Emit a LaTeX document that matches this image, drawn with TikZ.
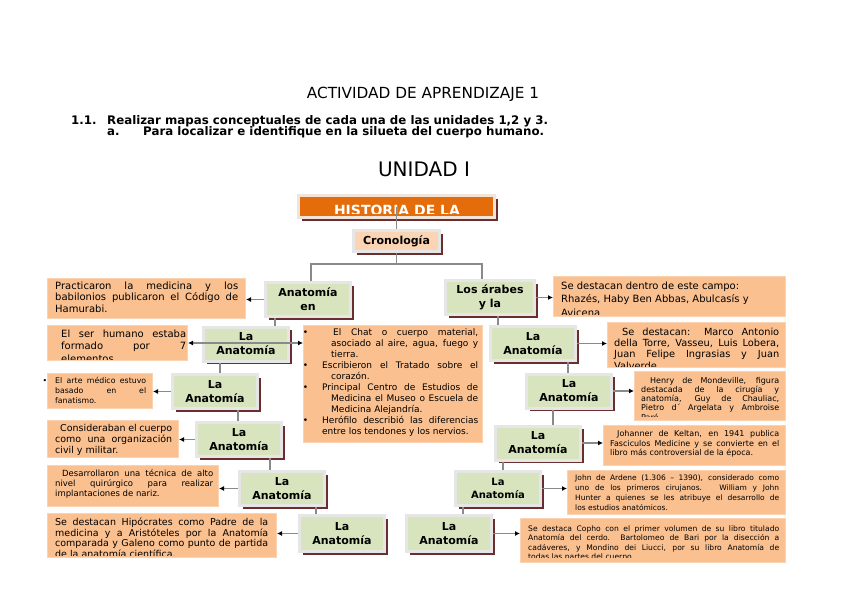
\documentclass[tikz,border=0pt]{standalone}
\usepackage{fontspec}
\setmainfont{DejaVu Sans}
\usetikzlibrary{arrows.meta,positioning,shadows}
\definecolor{titleorange}{HTML}{E46C0A}
\definecolor{titleframe} {HTML}{F2E4D8}
\definecolor{cronofill}  {HTML}{FBD4B4}
\definecolor{anagreen}   {HTML}{D7E4BD}
\definecolor{framegray}  {HTML}{E6E6E6}
\definecolor{shadowred}  {HTML}{6B2E2E}
\definecolor{notepeach}  {HTML}{FAC090}
\definecolor{noteedge}   {HTML}{FBD3B3}
\definecolor{linegray}   {HTML}{8A8A8A}

\begin{document}
\begin{tikzpicture}[x=1pt,y=-1pt,
    anat/.style={fill=anagreen,draw=framegray,line width=3pt,
      minimum width=85pt,minimum height=34pt,inner sep=1pt,align=center,
      font=\bfseries\fontsize{11}{14}\selectfont,
      drop shadow={shadow xshift=3pt,shadow yshift=-3pt,fill=shadowred,opacity=1}},
    note/.style={fill=notepeach,draw=noteedge,line width=1pt,anchor=north west,inner sep=0pt},
    txt/.style={anchor=north west,inner sep=0pt,align=justify},
    link/.style={draw=linegray,line width=1.1pt},
    arr/.style={link,-{Latex[length=5pt,width=5pt,color=black]}}]

  \useasboundingbox[fill=white] (0,0) rectangle (848,599);

  % heading
  \node[anchor=base,font=\fontsize{15.3}{17}\selectfont] (act) at (423,99) {ACTIVIDAD DE APRENDIZAJE 1};
  \node[anchor=base west,inner sep=0pt,font=\bfseries\fontsize{11.8}{13}\selectfont] (task) at (71,124.5)
    {\makebox[36pt][l]{1.1.}Realizar mapas conceptuales de cada una de las unidades 1,2 y 3.};
  \node[anchor=base west,inner sep=0pt,font=\bfseries\fontsize{11.8}{13}\selectfont] (taska) at (107,135.5)
    {\makebox[36pt][l]{a.}Para localizar e identifique en la silueta del cuerpo humano.};
  \node[anchor=base,font=\fontsize{20}{24}\selectfont] (unit) at (424,176.5) {UNIDAD I};

  % title and chronology
  \node[fill=titleorange,draw=titleframe,line width=3pt,minimum width=196pt,minimum height=22pt,
        drop shadow={shadow xshift=3pt,shadow yshift=-3pt,fill=shadowred,opacity=1}] (hist) at (396.5,206.5) {};
  \begin{scope}
    \clip ([shift={(3pt,6pt)}]hist.south west) rectangle ([shift={(-3pt,-3pt)}]hist.north east);
    \node[anchor=base,text=white,font=\bfseries\fontsize{14}{16}\selectfont] (histtxt) at (397,215) {HISTORIA DE LA};
  \end{scope}
  \node[anat,fill=cronofill,minimum width=86pt,minimum height=21pt] (crono) at (396.5,241) {Cronología};
  \draw[link] (hist.center) -- (crono.north);

  % green nodes
  \node[anat] (A0) at (308,299.5) {Anatomía\\en};
  \node[anat,minimum width=89pt] (Ar) at (490,297.5) {Los árabes\\y la};
  \node[anat] (L1) at (246,344) {La\\Anatomía};
  \node[anat] (L2) at (215,391.5) {La\\Anatomía};
  \node[anat] (L3) at (239,439.5) {La\\Anatomía};
  \node[anat] (L4) at (282,488.5) {La\\Anatomía};
  \node[anat,minimum height=36pt] (L5) at (342,533.5) {La\\Anatomía};
  \node[anat] (R1) at (533,343.5) {La\\Anatomía};
  \node[anat] (R2) at (569,391) {La\\Anatomía};
  \node[anat] (R3) at (538,443) {La\\Anatomía};
  \node[anat,font=\bfseries\fontsize{10}{13}\selectfont] (R4) at (498,488.5) {La\\Anatomía};
  \node[anat,minimum height=36pt] (R5) at (449,533.5) {La\\Anatomía};

  % tree
  \coordinate (split) at ([yshift=-11pt]crono.south);
  \draw[link] (crono.south) -- (split);
  \draw[link] ([xshift=3pt]A0.north) |- (split) -| ([xshift=-8pt]Ar.north);
  \draw[link] ([xshift=-33pt]A0.south) -- ([xshift=-33pt]A0.south |- L1.north);
  \draw[link] ([xshift=-26pt]L1.south) -- ([xshift=-26pt]L1.south |- L2.north);
  \draw[link] ([xshift=23pt]L2.south) -- ([xshift=23pt]L2.south |- L3.north);
  \draw[link] ([xshift=31pt]L3.south) -- ([xshift=31pt]L3.south |- L4.north);
  \draw[link] ([xshift=34pt]L4.south) -- ([xshift=34pt]L4.south |- L5.north);
  \draw[link] ([xshift=8pt]Ar.south) -- ([xshift=8pt]Ar.south |- R1.north);
  \draw[link] ([xshift=35pt]R1.south) -- ([xshift=35pt]R1.south |- R2.north);
  \draw[link] ([xshift=-16pt]R2.south) -- ([xshift=-16pt]R2.south |- R3.north);
  \draw[link] ([xshift=-35pt]R3.south) -- ([xshift=-35pt]R3.south |- R4.north);
  \draw[link] ([xshift=-35pt]R4.south) -- ([xshift=-35pt]R4.south |- R5.north);

  % left notes
  \node[note,minimum width=198pt,minimum height=40pt] (pA) at (47,278) {};
  \node[txt,text width=183pt,font=\fontsize{10}{11.5}\selectfont] (pAtxt) at (55,281.5)
    {\hangindent=7pt\hangafter=1 Practicaron la medicina y los\linebreak babilonios publicaron el Código de\linebreak Hamurabi.};

  \node[note,minimum width=140pt,minimum height=35pt] (pB) at (47,325) {};
  \begin{scope}
    \clip ([yshift=1.5pt]pB.south west) rectangle (pB.north east);
    \node[txt,text width=125pt,font=\fontsize{10}{12.3}\selectfont] (pBtxt) at (61,329.6)
      {El ser humano estaba\linebreak formado por 7\linebreak elementos};
  \end{scope}

  \node[note,minimum width=179pt,minimum height=117pt] (pC) at (303,325) {};
  \node[txt,text width=156pt,font=\fontsize{9}{11}\selectfont] (pCtxt) at (322,328.5)
    {\noindent\llap{\textbullet\hspace{14pt}}\hangindent=9pt\hangafter=1\hspace*{11pt}El Chat o cuerpo material,\linebreak asociado al aire, agua, fuego y\linebreak tierra.\par
     \noindent\llap{\textbullet\hspace{14pt}}\hangindent=9pt\hangafter=1 Escribieron el Tratado sobre el\linebreak corazón.\par
     \noindent\llap{\textbullet\hspace{14pt}}\hangindent=9pt\hangafter=1 Principal Centro de Estudios de\linebreak Medicina el Museo o Escuela de\linebreak Medicina Alejandría.\par
     \noindent\llap{\textbullet\hspace{14pt}}\hangindent=9pt\hangafter=1 Herófilo describió las diferencias\linebreak entre los tendones y los nervios.};

  \node[note,minimum width=105pt,minimum height=35pt] (pD) at (47,373) {};
  \node[txt,text width=91pt,font=\fontsize{7.8}{10}\selectfont] (pDtxt) at (55,376.7)
    {\noindent\llap{\textbullet\hspace{8pt}}\hangindent=7pt\hangafter=1 El arte médico estuvo\linebreak basado en el\linebreak fanatismo.};

  \node[note,minimum width=131pt,minimum height=37pt] (pE) at (47,420) {};
  \node[txt,text width=117pt,font=\fontsize{9.5}{11.4}\selectfont] (pEtxt) at (55,423.7)
    {\hspace*{5pt}Consideraban el cuerpo\linebreak como una organización\linebreak civil y militar.};

  \node[note,minimum width=171pt,minimum height=41pt] (pF) at (47,465) {};
  \node[txt,text width=158pt,font=\fontsize{8.5}{9.8}\selectfont] (pFtxt) at (55,469.8)
    {\hspace*{7pt}Desarrollaron una técnica de alto\linebreak nivel quirúrgico para realizar\linebreak implantaciones de nariz.};

  \node[note,minimum width=229pt,minimum height=44pt] (pG) at (47,513) {};
  \begin{scope}
    \clip ([yshift=2.5pt]pG.south west) rectangle (pG.north east);
    \node[txt,text width=213pt,font=\fontsize{9.5}{10.7}\selectfont] (pGtxt) at (55,517.6)
      {\hangindent=7pt\hangafter=1 Se destacan Hipócrates como Padre de la\linebreak medicina y a Aristóteles por la Anatomía\linebreak comparada y Galeno como punto de partida\linebreak de la anatomía científica.};
  \end{scope}

  % right notes
  \node[note,minimum width=232pt,minimum height=40pt] (pH) at (553,276) {};
  \begin{scope}
    \clip ([yshift=3pt]pH.south west) rectangle (pH.north east);
    \node[txt,align=left,font=\fontsize{10}{13.3}\selectfont] (pHtxt) at (561,281.8)
      {Se destacan dentro de este campo:\\Rhazés, Haby Ben Abbas, Abulcasís y\\Avicena};
  \end{scope}

  \node[note,minimum width=178pt,minimum height=45pt] (pI) at (607,322) {};
  \begin{scope}
    \clip ([yshift=1.5pt]pI.south west) rectangle (pI.north east);
    \node[txt,text width=165pt,font=\fontsize{9.8}{11.3}\selectfont] (pItxt) at (614,327.5)
      {\hspace*{8pt}Se destacan: Marco Antonio\linebreak della Torre, Vasseu, Luis Lobera,\linebreak Juan Felipe Ingrasias y Juan\linebreak Valverde.};
  \end{scope}

  \node[note,minimum width=151pt,minimum height=49pt] (pJ) at (634,371) {};
  \begin{scope}
    \clip ([yshift=4.5pt]pJ.south west) rectangle (pJ.north east);
    \node[txt,text width=138pt,font=\fontsize{8}{9.3}\selectfont] (pJtxt) at (641,376.8)
      {\hspace*{9pt}Henry de Mondeville, figura\linebreak destacada de la cirugía y\linebreak anatomía, Guy de Chauliac,\linebreak Pietro d´ Argelata y Ambroise\linebreak Paré.};
  \end{scope}

  \node[note,minimum width=182pt,minimum height=40pt] (pK) at (603,425) {};
  \node[txt,text width=169pt,font=\fontsize{8}{9.3}\selectfont] (pKtxt) at (610,430.5)
    {\hspace*{7pt}Johanner de Keltan, en 1941 publica\linebreak Fasciculos Medicine y se convierte en el\linebreak libro más controversial de la época.};

  \node[note,minimum width=218pt,minimum height=44pt] (pL) at (567,470) {};
  \node[txt,text width=204pt,font=\fontsize{7.5}{10}\selectfont] (pLtxt) at (575,474.5)
    {John de Ardene (1.306 – 1390), considerado como\linebreak uno de los primeros cirujanos.\ \ \ William y John\linebreak Hunter a quienes se les atribuye el desarrollo de\linebreak los estudios anatómicos.};

  \node[note,minimum width=265pt,minimum height=44pt] (pM) at (520,518) {};
  \begin{scope}
    \clip ([yshift=6pt]pM.south west) rectangle (pM.north east);
    \node[txt,text width=251pt,font=\fontsize{7.6}{9.5}\selectfont] (pMtxt) at (528,525.5)
      {Se destaca Copho con el primer volumen de su libro titulado\linebreak Anatomía del cerdo.\ \ Bartolomeo de Bari por la disección a\linebreak cadáveres, y Mondino dei Liucci, por su libro Anatomía de\linebreak todas las partes del cuerpo.};
  \end{scope}

  % arrows
  \draw[arr] (A0.west) -- (A0.west -| pA.east);
  \draw[link,{Latex[length=5pt,width=5pt,color=black]}-{Latex[length=5pt,width=5pt,color=black]}]
    (pB.east) -- (pB.east -| pC.west);
  \draw[arr] (L2.west) -- (L2.west -| pD.east);
  \draw[arr] (L3.west) -- (L3.west -| pE.east);
  \draw[arr] (L4.west) -- (L4.west -| pF.east);
  \draw[arr] (L5.west) -- (L5.west -| pG.east);
  \draw[arr] (Ar.east) -- (Ar.east -| pH.west);
  \draw[arr] (R1.east) -- (R1.east -| pI.west);
  \draw[arr] (R2.east) -- (R2.east -| pJ.west);
  \draw[arr] (R3.east) -- (R3.east -| pK.west);
  \draw[arr] (R4.east) -- (R4.east -| pL.west);
  \draw[arr] (R5.east) -- (R5.east -| pM.west);
\end{tikzpicture}
\end{document}
